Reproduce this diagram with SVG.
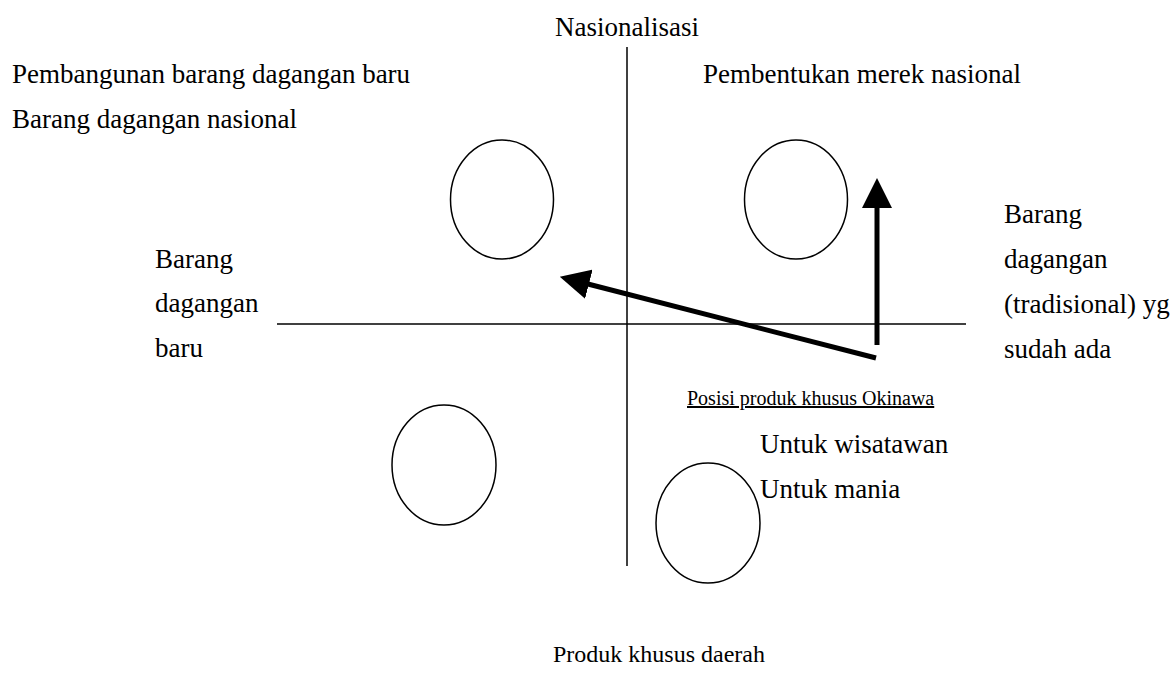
<svg xmlns="http://www.w3.org/2000/svg" width="1172" height="685" viewBox="0 0 1172 685">
<style>
text{font-family:"Liberation Serif","Times New Roman",serif;font-size:27px;fill:#000}
.s{font-size:20px;text-decoration:underline}
.b{font-size:24px}
.axis{stroke:#000;stroke-width:1.5;fill:none}
.ell{stroke:#000;stroke-width:1.5;fill:none}
.arr{stroke:#000;stroke-width:5;fill:none}
</style>
<defs>
<marker id="ah" markerWidth="6" markerHeight="6" refX="1" refY="3" orient="auto" markerUnits="strokeWidth" viewBox="0 0 6 6">
<path d="M0,0 L6,3 L0,6 Z" fill="#000"/>
</marker>
</defs>
<g id="connectors">
<line class="axis" x1="627" y1="47" x2="627" y2="566"/>
<line class="axis" x1="277" y1="324" x2="966" y2="324"/>
<line class="arr" x1="877" y1="345" x2="877" y2="203" marker-end="url(#ah)"/>
<line class="arr" x1="876" y1="358" x2="584" y2="283" marker-end="url(#ah)"/>
</g>
<g id="ellipse-tl"><ellipse class="ell" cx="502" cy="199.5" rx="51.5" ry="59.5"/></g>
<g id="ellipse-tr"><ellipse class="ell" cx="796" cy="199.5" rx="51.5" ry="59.5"/></g>
<g id="ellipse-bl"><ellipse class="ell" cx="444" cy="465" rx="52" ry="60"/></g>
<g id="ellipse-br"><ellipse class="ell" cx="708" cy="523" rx="52" ry="60"/></g>
<g id="labels">
<text x="627" y="36" text-anchor="middle">Nasionalisasi</text>
<text x="12" y="83">Pembangunan barang dagangan baru</text>
<text x="12" y="128">Barang dagangan nasional</text>
<text x="703" y="83">Pembentukan merek nasional</text>
<text x="1004" y="223">Barang</text>
<text x="1004" y="268">dagangan</text>
<text x="1004" y="313">(tradisional) yg</text>
<text x="1004" y="358">sudah ada</text>
<text x="155" y="268">Barang</text>
<text x="155" y="312">dagangan</text>
<text x="155" y="357">baru</text>
<text class="s" x="687" y="405">Posisi produk khusus Okinawa</text>
<text x="760" y="453">Untuk wisatawan</text>
<text x="760" y="498">Untuk mania</text>
<text class="b" x="659" y="662" text-anchor="middle">Produk khusus daerah</text>
</g>
</svg>
